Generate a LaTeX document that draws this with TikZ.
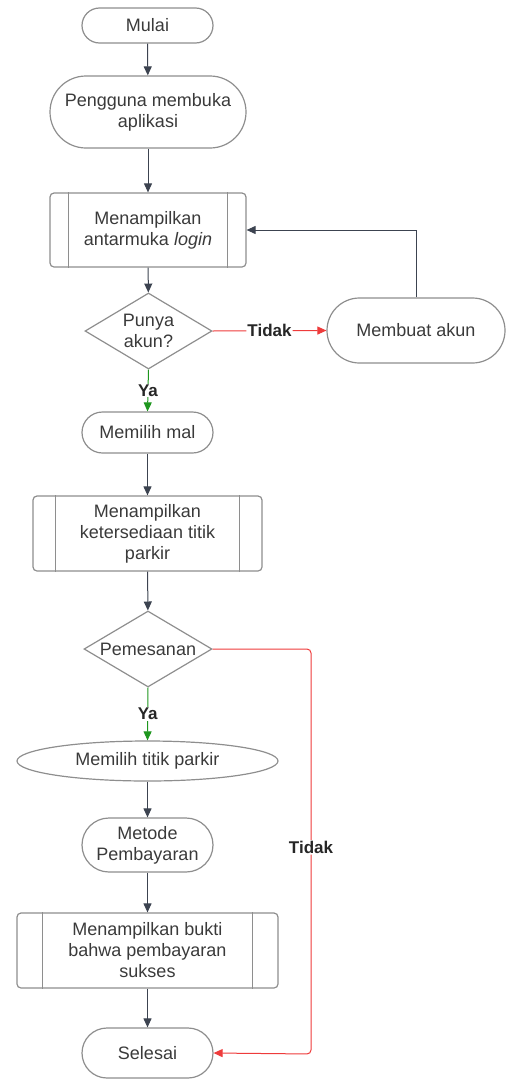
\documentclass[tikz,border=0pt]{standalone}
\usepackage{fontspec}
\setmainfont{Liberation Sans}
\usetikzlibrary{shapes.geometric,arrows.meta}
\definecolor{txt}{HTML}{3A3A3A}
\definecolor{brd}{HTML}{8E8E8E}
\definecolor{arw}{HTML}{3C4350}
\definecolor{rd}{HTML}{EE3B3B}
\definecolor{gr}{HTML}{1E961E}
\tikzset{
  base/.style={draw=brd, line width=1.2pt, text=txt, align=center, inner sep=0pt,
    font=\fontsize{18}{21}\selectfont},
  term/.style n args={3}{base, rectangle, minimum width=#1, minimum height=#2, rounded corners=#3},
  proc/.style n args={2}{base, rectangle, minimum width=#1, minimum height=#2, rounded corners=4pt},
  dec/.style n args={2}{base, diamond, aspect=1.67, minimum width=#1, minimum height=#2},
  oval/.style n args={2}{base, ellipse, minimum width=#1, minimum height=#2},
  arr/.style={draw=arw, line width=1pt, -{Triangle[length=9pt,width=8pt]}},
  redarr/.style={draw=rd, line width=1pt, -{Triangle[length=9pt,width=8pt]}, rounded corners=4pt},
  grarr/.style={draw=gr, line width=1pt, -{Triangle[length=9pt,width=8pt]}},
  lbl/.style={fill=white, text=black!85, inner sep=1pt, font=\fontsize{17}{20}\selectfont\bfseries},
}
\begin{document}
\begin{tikzpicture}[x=1pt,y=-1pt]
\useasboundingbox (0,0) rectangle (506,1079);

\node[term={131pt}{35pt}{17.5pt}] (mulai) at (147.5,25.5) {Mulai};
\node[term={196pt}{72pt}{36pt}] (peng) at (148,112) {Pengguna membuka\\aplikasi};
\node[proc={196pt}{74pt}] (login) at (148,230) {Menampilkan\\antarmuka \textit{login}};
\node[dec={127pt}{76pt}] (punya) at (148.5,331) {Punya\\akun?};
\node[term={178pt}{65pt}{32.5pt}] (akun) at (416,330.5) {Membuat akun};
\node[term={131pt}{41pt}{20.5pt}] (mal) at (147.5,432.5) {Memilih mal};
\node[proc={229pt}{75pt}] (sedia) at (147.5,533.5) {Menampilkan\\ketersediaan titik\\parkir};
\node[dec={128pt}{76pt}] (pem) at (148,649) {Pemesanan};
\node[oval={261pt}{40pt}] (titik) at (147.5,761) {Memilih titik parkir};
\node[term={131pt}{54pt}{27pt}] (metode) at (147.5,845) {Metode\\Pembayaran};
\node[proc={261pt}{75pt}] (bukti) at (147.5,950.5) {Menampilkan bukti\\bahwa pembayaran\\sukses};
\node[term={131pt}{50pt}{25pt}] (selesai) at (147.5,1053) {Selesai};

% inner lines of process boxes
\foreach \n/\o in {login/19pt, sedia/23pt, bukti/26pt}{
  \draw[brd, line width=1.2pt] ([xshift=\o]\n.north west) -- ([xshift=\o]\n.south west);
  \draw[brd, line width=1.2pt] ([xshift=-\o]\n.north east) -- ([xshift=-\o]\n.south east);
}

\coordinate (c1) at (311,649);
\coordinate (c2) at (311,1054);

\draw[arr] (mulai) -- (peng);
\draw[arr] (peng) -- (login);
\draw[arr] (login) -- (punya);
\draw[redarr] (punya.east) -- node[lbl]{Tidak} (akun.west);
\draw[arr] (akun.north) |- (login.east);
\draw[grarr] (punya.south) -- node[lbl]{Ya} (mal.north);
\draw[arr] (mal) -- (sedia);
\draw[arr] (sedia) -- (pem);
\draw[grarr] (pem.south) -- node[lbl]{Ya} (titik.north);
\draw[redarr] (pem.east) -- (c1) -- node[lbl, pos=0.49]{Tidak} (c2) -- (selesai.east);
\draw[arr] (titik) -- (metode);
\draw[arr] (metode) -- (bukti);
\draw[arr] (bukti) -- (selesai);
\end{tikzpicture}
\end{document}
